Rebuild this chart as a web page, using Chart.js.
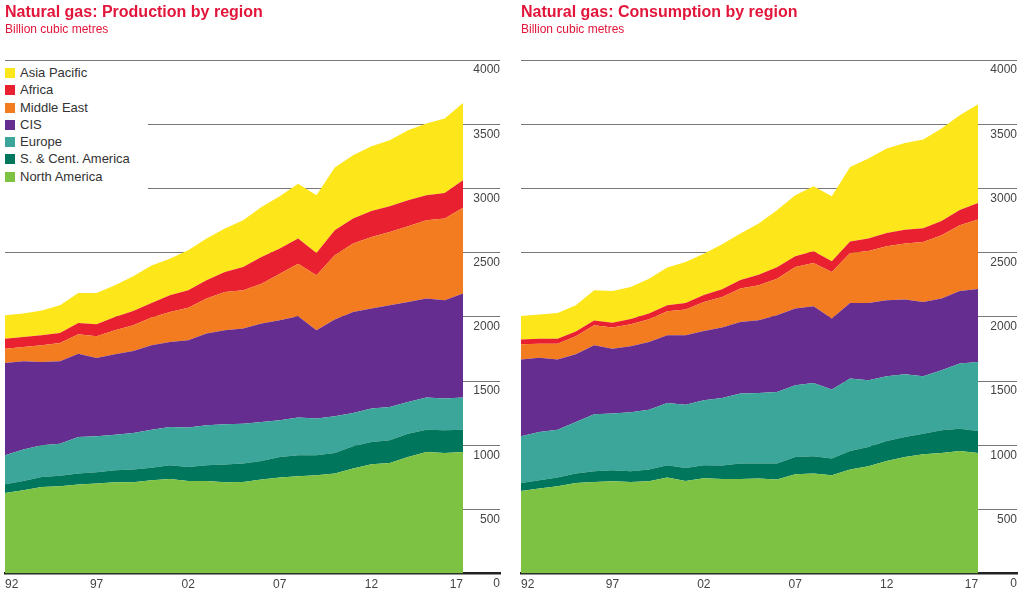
<!DOCTYPE html>
<html>
<head>
<meta charset="utf-8">
<script src="https://cdn.jsdelivr.net/npm/chart.js@4.4.1/dist/chart.umd.min.js"></script>
<style>
  html, body { margin: 0; padding: 0; background: #fff; }
  body { width: 1024px; height: 599px; position: relative; overflow: hidden; font-family: "Liberation Sans", Arial, sans-serif; }
  .panel { position: absolute; top: 0; width: 512px; height: 599px; }
  .panel canvas { position: absolute; left: 0; top: 0; }
  .title { position: absolute; top: 3px; font-size: 16px; font-weight: bold; color: #e2153a; white-space: nowrap; }
  .sub { position: absolute; top: 22px; font-size: 12px; color: #e2153a; white-space: nowrap; }
  #legend { position: absolute; left: 0; top: 64px; width: 148px; height: 127px; background: #fff; z-index: 2; }
  .row { position: relative; height: 17.3px; font-size: 13px; color: #333; line-height: 17.3px; padding-left: 20px; white-space: nowrap; }
  .row span { position: absolute; left: 5px; top: 4px; width: 10px; height: 10px; }
</style>
</head>
<body>

<div class="panel" style="left:0">
  <canvas id="prodChart" width="512" height="599"></canvas>
  <div class="title" style="left:5px">Natural gas: Production by region</div>
  <div class="sub" style="left:5px">Billion cubic metres</div>
  <div id="legend"></div>
</div>

<div class="panel" style="left:512px">
  <canvas id="consChart" width="512" height="599"></canvas>
  <div class="title" style="left:9px">Natural gas: Consumption by region</div>
  <div class="sub" style="left:9px">Billion cubic metres</div>
</div>

<script>
const years = [1992, 1993, 1994, 1995, 1996, 1997, 1998, 1999, 2000, 2001, 2002, 2003, 2004,
               2005, 2006, 2007, 2008, 2009, 2010, 2011, 2012, 2013, 2014, 2015, 2016, 2017];
const tickYears = [1992, 1997, 2002, 2007, 2012, 2017];
const yTicks = [0, 500, 1000, 1500, 2000, 2500, 3000, 3500, 4000];

// bottom to top
const regions = ['North America', 'S. & Cent. America', 'Europe', 'CIS', 'Middle East', 'Africa', 'Asia Pacific'];
const colors = ['#7dc243', '#00775c', '#3ba699', '#662d90', '#f37c21', '#e8202f', '#fde61a'];

// production, bcm
const prodNorthAmerica = [628, 649, 674, 680, 693, 701, 711, 711, 727, 737, 721, 721, 711, 713, 732, 748, 758, 766, 779, 818, 851, 861, 908, 947, 939, 947];
const prodSCAmerica    = [67, 72, 78, 83, 86, 88, 93, 99, 98, 106, 109, 122, 138, 144, 145, 160, 163, 155, 160, 173, 174, 177, 182, 174, 177, 174];
const prodEurope       = [226, 245, 247, 249, 285, 280, 278, 285, 296, 299, 307, 312, 314, 311, 304, 286, 294, 286, 286, 260, 260, 259, 247, 250, 247, 250];
const prodCIS          = [719, 687, 649, 641, 649, 610, 626, 639, 657, 662, 680, 714, 732, 740, 766, 779, 789, 688, 753, 787, 779, 793, 778, 771, 766, 810];
const prodMiddleEast   = [112, 112, 130, 143, 151, 169, 187, 200, 216, 234, 254, 273, 298, 298, 311, 363, 410, 428, 501, 532, 558, 570, 590, 610, 636, 669];
const prodAfrica       = [78, 78, 78, 78, 88, 94, 104, 111, 114, 129, 135, 142, 156, 182, 208, 195, 195, 174, 195, 195, 202, 201, 202, 194, 199, 213];
const prodAsiaPacific  = [182, 182, 194, 216, 233, 243, 246, 270, 292, 286, 312, 325, 338, 364, 389, 407, 428, 449, 488, 493, 504, 514, 546, 559, 580, 602];

// consumption, bcm
const consNorthAmerica = [643, 662, 680, 706, 713, 719, 713, 719, 748, 721, 742, 737, 737, 740, 732, 773, 779, 766, 810, 836, 877, 908, 930, 940, 955, 940];
const consSCAmerica    = [63, 65, 68, 73, 84, 85, 84, 91, 95, 101, 101, 104, 120, 117, 125, 135, 135, 130, 145, 150, 156, 156, 160, 176, 174, 171];
const consEurope       = [363, 376, 373, 402, 444, 442, 459, 467, 486, 494, 507, 527, 545, 550, 558, 559, 571, 537, 564, 519, 504, 488, 447, 467, 507, 537];
const consCIS          = [598, 579, 546, 527, 537, 506, 514, 527, 527, 540, 539, 548, 558, 566, 597, 597, 597, 553, 589, 603, 592, 582, 578, 559, 565, 569];
const consMiddleEast   = [119, 109, 124, 140, 156, 164, 172, 177, 187, 200, 226, 238, 260, 272, 285, 324, 337, 363, 389, 405, 420, 436, 468, 493, 512, 540];
const consAfrica       = [38, 39, 38, 38, 38, 38, 40, 44, 47, 52, 54, 60, 66, 82, 88, 84, 92, 84, 90, 96, 104, 108, 106, 112, 118, 129];
const consAsiaPacific  = [182, 187, 201, 204, 234, 247, 250, 272, 293, 319, 323, 351, 362, 399, 444, 474, 505, 505, 580, 623, 657, 676, 691, 719, 738, 769];

const prodSeries = [prodNorthAmerica, prodSCAmerica, prodEurope, prodCIS, prodMiddleEast, prodAfrica, prodAsiaPacific];
const consSeries = [consNorthAmerica, consSCAmerica, consEurope, consCIS, consMiddleEast, consAfrica, consAsiaPacific];

// legend, top to bottom
const legend = document.getElementById('legend');
for (let i = regions.length - 1; i >= 0; i--) {
  const row = document.createElement('div');
  row.className = 'row';
  row.innerHTML = '<span style="background:' + colors[i] + '"></span>' + regions[i];
  legend.appendChild(row);
}

function makeChart(id, series, xMax, pad) {
  const ctx = document.getElementById(id).getContext('2d');
  return new Chart(ctx, {
    type: 'line',
    data: {
      datasets: series.map((vals, i) => ({
        label: regions[i],
        data: vals.map((v, j) => ({ x: years[j], y: v })),
        backgroundColor: colors[i],
        borderWidth: 0,
        pointRadius: 0,
        tension: 0,
        fill: i === 0 ? 'origin' : '-1'
      }))
    },
    options: {
      responsive: false,
      animation: false,
      layout: { padding: pad },
      plugins: { legend: { display: false }, tooltip: { enabled: false } },
      scales: {
        x: {
          type: 'linear',
          z: 1,
          min: 1992,
          max: xMax,
          grid: { display: false, drawTicks: false },
          border: { display: true, color: '#222', width: 2.5 },
          afterBuildTicks: scale => { scale.ticks = tickYears.map(v => ({ value: v })); },
          ticks: {
            align: 'inner',
            maxRotation: 0,
            autoSkip: false,
            padding: 4,
            color: '#444',
            font: { family: '"Liberation Sans", Arial, sans-serif', size: 12 },
            callback: v => String(v).slice(2)
          }
        },
        y: {
          position: 'right',
          stacked: true,
          min: 0,
          max: 4000,
          afterBuildTicks: scale => { scale.ticks = yTicks.map(v => ({ value: v })); },
          grid: { color: '#777', lineWidth: 1, drawTicks: false },
          border: { display: false },
          ticks: {
            mirror: true,
            padding: 0,
            labelOffset: 10,
            color: '#444',
            font: { family: '"Liberation Sans", Arial, sans-serif', size: 12 },
            callback: v => String(v)
          }
        }
      }
    }
  });
}

makeChart('prodChart', prodSeries, 2019.02, { left: 5, right: 12, top: 60, bottom: 3 });
makeChart('consChart', consSeries, 2019.13, { left: 9, right: 7, top: 60, bottom: 3 });
</script>
</body>
</html>
